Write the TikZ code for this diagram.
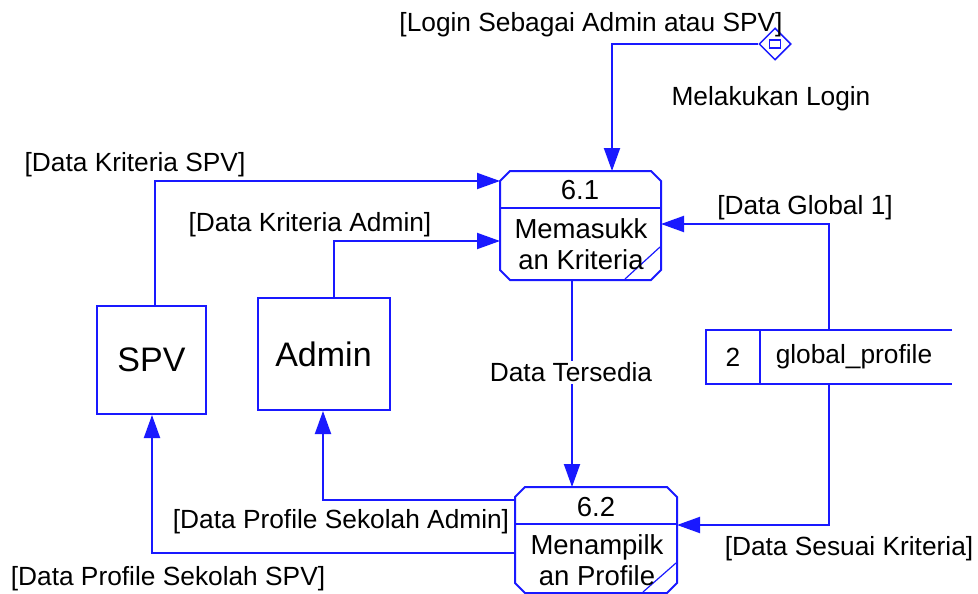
\documentclass[tikz,border=0pt]{standalone}
\usepackage{fontspec}
\setmainfont{Liberation Sans}
\usetikzlibrary{arrows.meta,shapes.geometric,calc}
\definecolor{dfdblue}{RGB}{25,25,255}
\begin{document}
\begin{tikzpicture}[x=1pt,y=-1pt,
  line width=2pt,
  lbl/.style={inner sep=0pt, font=\fontsize{26.3}{31}\selectfont, text=black},
  elbl/.style={lbl, yshift=-2.5pt},
  plbl/.style={inner sep=0pt, font=\fontsize{27.5}{31}\selectfont, text=black},
  entlbl/.style={font=\fontsize{34}{40}\selectfont},
  proc/.style={rectangle, inner sep=0pt},
  ent/.style={draw=dfdblue, rectangle, inner sep=0pt, entlbl},
  flow/.style={draw=dfdblue, -{Triangle[length=23pt,width=16pt]}},
  plain/.style={draw=dfdblue}
]
\useasboundingbox (0,0) rectangle (978,594);

% processes (chamfered boxes)
\node[proc, minimum width=159pt, minimum height=107pt] (p61) at (580.5,225.5) {};
\node[proc, minimum width=160pt, minimum height=104pt] (p62) at (596,540) {};
\foreach \p in {p61,p62}{
  \draw[plain] ($(\p.north west)+(10,0)$) -- ($(\p.north east)+(-10,0)$)
    -- ($(\p.north east)+(0,10)$) -- ($(\p.south east)+(0,-10)$)
    -- ($(\p.south east)+(-10,0)$) -- ($(\p.south west)+(10,0)$)
    -- ($(\p.south west)+(0,-10)$) -- ($(\p.north west)+(0,10)$) -- cycle;
}
\draw[plain] (p61.west |- 0,208) -- (p61.east |- 0,208);
\draw[plain] (p62.west |- 0,524) -- (p62.east |- 0,524);
\coordinate (s1a) at (625,279);
\coordinate (s1b) at (660,247);
\draw[plain, line width=1.2pt] (s1a) -- (s1b);
\coordinate (s2a) at (643,592);
\coordinate (s2b) at (676,563);
\draw[plain, line width=1.2pt] (s2a) -- (s2b);
\node[plbl] (t61) at (580,190) {6.1};
\node[plbl, align=center] (n61) at (581,244) {Memasukk\\an Kriteria};
\node[plbl] (t62) at (596,507) {6.2};
\node[plbl, align=center] (n62) at (597,560) {Menampilk\\an Profile};

% entities
\node[ent, minimum width=109pt, minimum height=108pt] (spv) at (151.5,360) {SPV};
\node[ent, minimum width=132pt, minimum height=112pt] (adm) at (323.5,354) {Admin};

% data store
\node[minimum width=246pt, minimum height=54pt, inner sep=0pt] (store) at (829,357) {};
\coordinate (st1) at (952,330);
\coordinate (st2) at (706,330);
\coordinate (st3) at (706,384);
\coordinate (st4) at (952,384);
\draw[plain] (st1) -- (st2) -- (st3) -- (st4);
\coordinate (sd1) at (760,330);
\coordinate (sd2) at (760,384);
\draw[plain] (sd1) -- (sd2);
\node[lbl] (sn) at (733,357) {2};
\node[lbl] (sname) at (854,357) {global\_profile};

% login diamond
\node[diamond, draw=dfdblue, line width=1.5pt, minimum width=32pt, minimum height=32pt, inner sep=0pt] (dia) at (775,44) {};
\node[draw=dfdblue, line width=1.5pt, minimum width=11pt, minimum height=8pt, inner sep=0pt] (diasq) at (dia.center) {};

% connector helper coordinates
\coordinate (cl) at (612,44);
\coordinate (csk) at (155,181);
\coordinate (cak) at (334,241);
\coordinate (cg) at (829,224);
\coordinate (ct) at (572,0);
\coordinate (cs) at (829,525);
\coordinate (cpa) at (323,500);
\coordinate (cps) at (152,553);

% connectors
\draw[flow] (dia.west) -| (p61.north -| cl);
\draw[flow] (spv.north -| csk) |- (p61.west |- csk);
\draw[flow] (adm.north -| cak) |- (p61.west |- cak);
\draw[flow] (store.north) |- (p61.east |- cg);
\draw[flow] (p61.south -| ct) -- (p62.north -| ct);
\draw[flow] (store.south) |- (p62.east |- cs);
\draw[flow] (p62.west |- cpa) -| (adm.south -| cpa);
\draw[flow] (p62.west |- cps) -| (spv.south -| cps);

% labels
\node[elbl] (l1) at (591,22) {[Login Sebagai Admin atau SPV]};
\node[elbl] (l2) at (771,96) {Melakukan Login};
\node[elbl] (l3) at (135,162) {[Data Kriteria SPV]};
\node[elbl] (l4) at (310,222) {[Data Kriteria Admin]};
\node[elbl] (l5) at (805,205) {[Data Global 1]};
\node[elbl, fill=white, inner sep=2pt] (l6) at (571,370) {Data Tersedia};
\node[elbl] (l7) at (849,546) {[Data Sesuai Kriteria]};
\node[elbl] (l8) at (341,519) {[Data Profile Sekolah Admin]};
\node[elbl] (l9) at (168,576) {[Data Profile Sekolah SPV]};
\end{tikzpicture}
\end{document}
